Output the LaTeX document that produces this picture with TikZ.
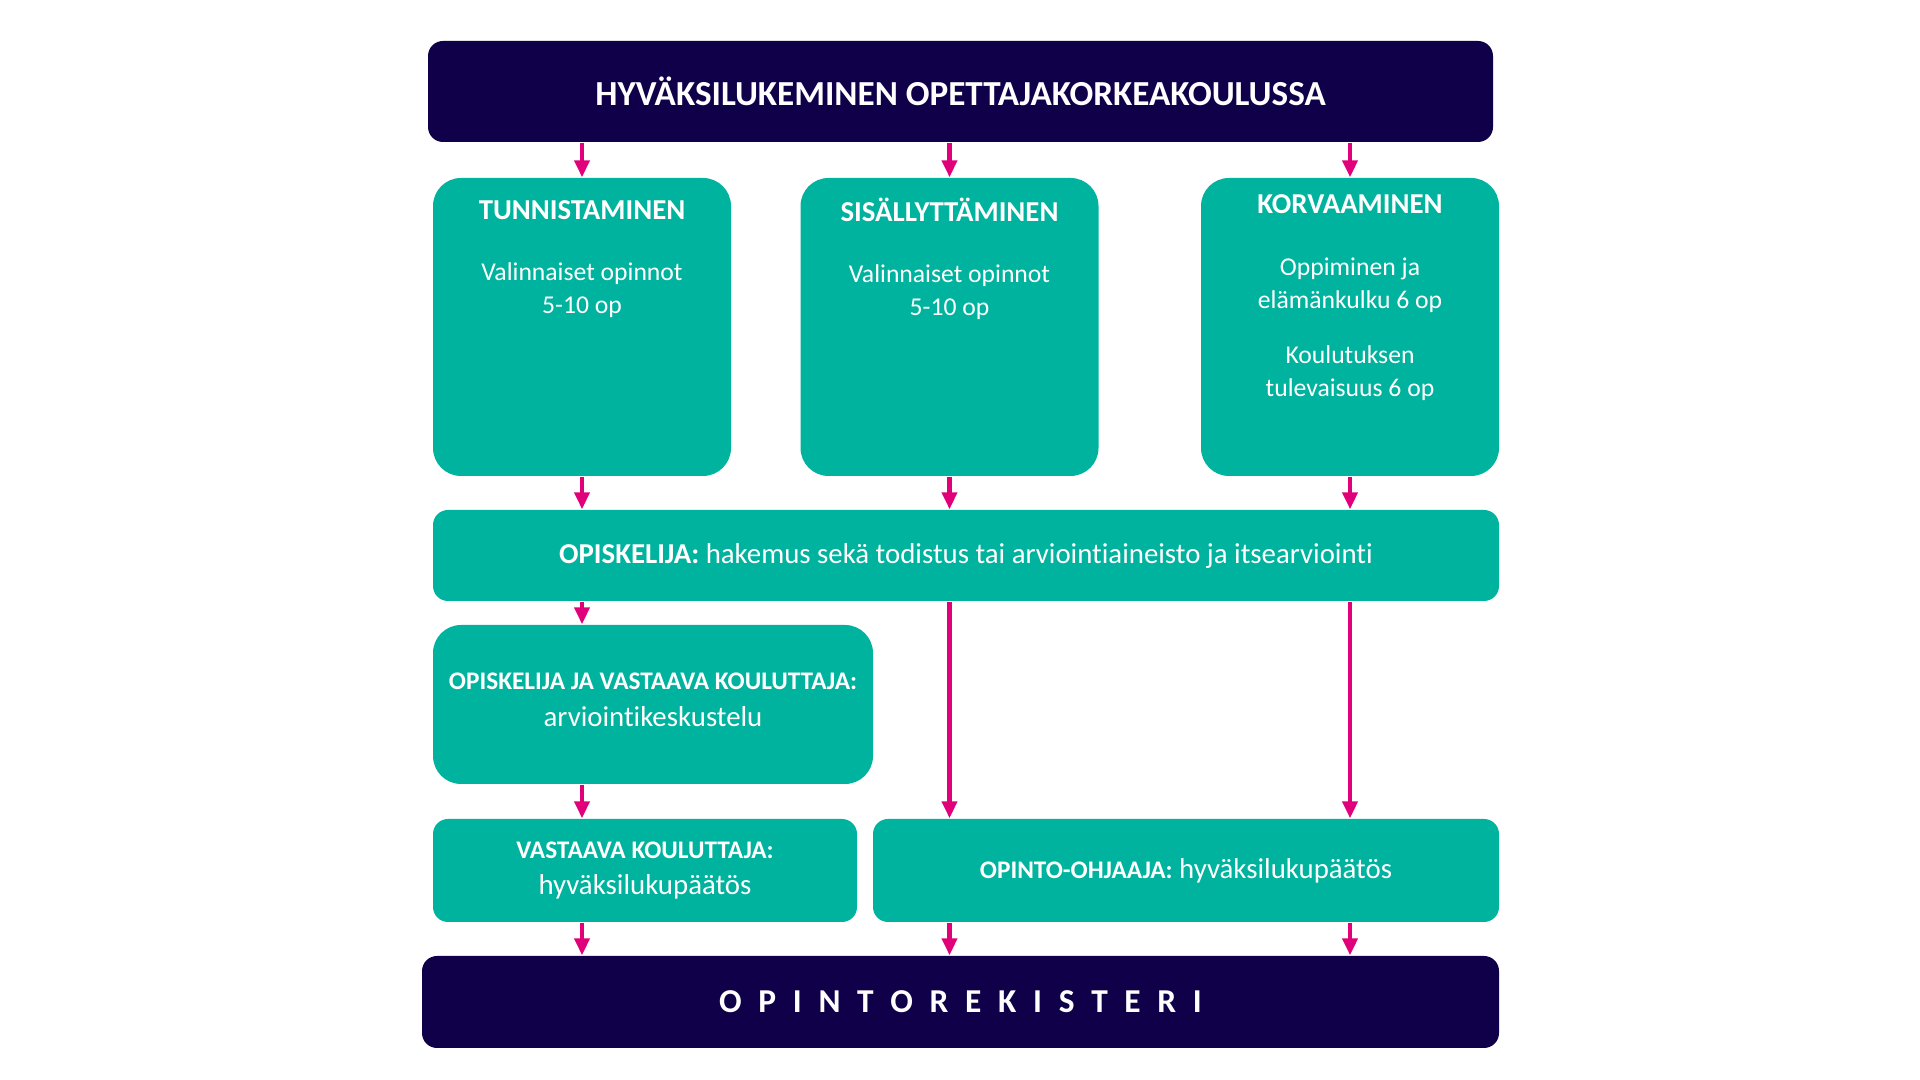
\documentclass[tikz,border=0pt]{standalone}
\usepackage{fontspec}
\setmainfont{Carlito}[RawFeature=-liga]
\usetikzlibrary{arrows.meta}
\definecolor{navy}{HTML}{10004A}
\definecolor{teal}{HTML}{00B39E}
\definecolor{magenta}{HTML}{E0007A}
\begin{document}
\begin{tikzpicture}[
                head/.style={fill=navy, rounded corners=0.15cm, text=white, font=\bfseries, align=center, inner sep=0pt},
                box/.style={fill=teal, rounded corners=0.28cm, text=white, align=center, inner sep=0pt},
                bar/.style={fill=teal, rounded corners=0.15cm, text=white, align=center, inner sep=0pt},
                txt/.style={text=white, align=center, font=\fontsize{7.3}{9.3}\selectfont},
                arrow/.style={-{Triangle[length=0.17cm,width=0.15cm]}, draw=magenta, fill=magenta, line width=1.2pt}]

                \useasboundingbox (0,0) rectangle (19.2,10.8);

                \node[head, minimum width=10.65cm, minimum height=1.01cm, font=\bfseries\fontsize{10}{12}\selectfont] (title) at (9.605,9.885) {HYVÄKSILUKEMINEN OPETTAJAKORKEAKOULUSSA};

                \node[box, minimum width=2.98cm, minimum height=2.98cm] (tunn) at (5.82,7.53) {};
                \node[box, minimum width=2.98cm, minimum height=2.98cm] (sis) at (9.495,7.53) {};
                \node[box, minimum width=2.98cm, minimum height=2.98cm] (korv) at (13.5,7.53) {};

                \node[txt, font=\bfseries\fontsize{8.2}{10}\selectfont] (tunnh) at (5.82,8.70) {TUNNISTAMINEN};
                \node[txt] (tunnt) at (5.82,7.90) {Valinnaiset opinnot\\5-10 op};
                \node[txt, font=\bfseries\fontsize{8.2}{10}\selectfont] (sish) at (9.495,8.70) {SISÄLLYTTÄMINEN};
                \node[txt] (sist) at (9.495,7.88) {Valinnaiset opinnot\\5-10 op};
                \node[txt, font=\bfseries\fontsize{8.2}{10}\selectfont] (korvh) at (13.5,8.76) {KORVAAMINEN};
                \node[txt] (korvt) at (13.5,7.95) {Oppiminen ja\\elämänkulku 6 op};
                \node[txt] (korvt2) at (13.5,7.07) {Koulutuksen\\tulevaisuus 6 op};

                \node[bar, minimum width=10.66cm, minimum height=0.91cm, font=\fontsize{8.2}{10}\selectfont] (opisk) at (9.66,5.245) {\textbf{OPISKELIJA:} hakemus sekä todistus tai arviointiaineisto ja itsearviointi};

                \node[box, minimum width=4.4cm, minimum height=1.59cm] (kesk) at (6.53,3.755) {};
                \node[txt, font=\fontsize{8.2}{10.5}\selectfont] (keskt) at (6.53,3.80) {\textbf{\fontsize{7.2}{9}\selectfont OPISKELIJA JA VASTAAVA KOULUTTAJA:}\\arviointikeskustelu};

                \node[bar, minimum width=4.24cm, minimum height=1.03cm, font=\fontsize{8.2}{10.5}\selectfont] (vast) at (6.45,2.095) {\textbf{\fontsize{7.2}{9}\selectfont VASTAAVA KOULUTTAJA:}\\hyväksilukupäätös};
                \node[bar, minimum width=6.26cm, minimum height=1.03cm, font=\fontsize{8.2}{10}\selectfont] (ohj) at (11.86,2.095) {\textbf{\fontsize{7.2}{9}\selectfont OPINTO-OHJAAJA:} hyväksilukupäätös};

                \node[head, minimum width=10.77cm, minimum height=0.92cm, font=\bfseries\fontsize{9.5}{12}\selectfont] (rek) at (9.605,0.78) {O\hspace{0.5em}P\hspace{0.5em}I\hspace{0.5em}N\hspace{0.5em}T\hspace{0.5em}O\hspace{0.5em}R\hspace{0.5em}E\hspace{0.5em}K\hspace{0.5em}I\hspace{0.5em}S\hspace{0.5em}T\hspace{0.5em}E\hspace{0.5em}R\hspace{0.5em}I};

                % title -> columns
                \draw[arrow] (title.south -| tunn) -- (tunn.north);
                \draw[arrow] (title.south -| sis) -- (sis.north);
                \draw[arrow] (title.south -| korv) -- (korv.north);
                % columns -> opiskelija
                \draw[arrow] (tunn.south) -- (opisk.north -| tunn);
                \draw[arrow] (sis.south) -- (opisk.north -| sis);
                \draw[arrow] (korv.south) -- (opisk.north -| korv);
                % lower part
                \draw[arrow] (opisk.south -| tunn) -- (kesk.north -| tunn);
                \draw[arrow] (kesk.south -| tunn) -- (vast.north -| tunn);
                \draw[arrow] (opisk.south -| sis) -- (ohj.north -| sis);
                \draw[arrow] (opisk.south -| korv) -- (ohj.north -| korv);
                \draw[arrow] (vast.south -| tunn) -- (rek.north -| tunn);
                \draw[arrow] (ohj.south -| sis) -- (rek.north -| sis);
                \draw[arrow] (ohj.south -| korv) -- (rek.north -| korv);
            \end{tikzpicture}
\end{document}
